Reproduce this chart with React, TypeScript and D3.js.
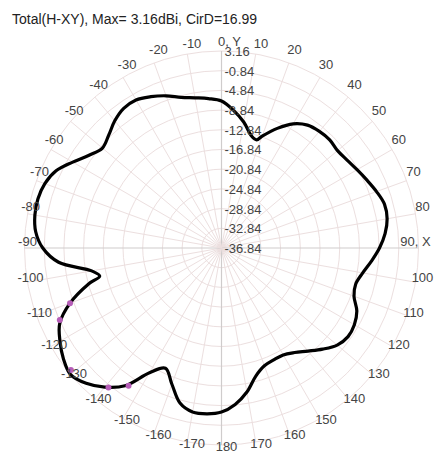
import React from 'react';
import * as d3 from 'd3';

// measured pattern, azimuth in degrees (0 = +Y, 90 = +X), gain in dBi
const azimuth = [
  -175, -170, -165, -160, -155, -150, -145, -140, -135, -130, -125, -120, -115, -110, -105, -103, -100,
  -95, -90, -85, -80, -75, -70, -65, -60, -55, -50, -45, -40, -35, -30, -25, -20, -15, -10, -5,
  0, 5, 10, 15, 18, 20, 25, 30, 35, 40, 45, 50, 55, 60, 65, 70, 75, 80, 85, 90,
  95, 100, 105, 110, 115, 120, 125, 130, 135, 140, 145, 150, 155, 160, 165, 170, 175, 180,
];
const gain = [
  -3.05, -3.03, -4.25, -7.4, -9.9, -7.6, -2.69, 0.05, 2.02, 3.16, 2.35, 1.03, -0.6, -4.11, -9.02, -11.46, -10.08,
  -3.64, -0.55, 1.03, 1.64, 1.74, 1.33, 0.22, -1.96, -4.01, -5.27, -4.45, -3.13, -2.22, -2.12, -2.93, -3.95, -5.16, -5.87, -6.38,
  -6.99, -8.78, -10.87, -13.29, -13.75, -12.68, -10.04, -7.72, -6.38, -5.92, -5.77, -6.08, -5.71, -5.06, -4.25, -3.34, -2.57, -2.69, -3.5, -4.76,
  -6.28, -7.72, -8.62, -8.21, -6.52, -5.69, -5.47, -6.18, -7.8, -9.51, -10.93, -11.78, -11.76, -11.38, -9.92, -7.15, -4.96, -3.54,
];

// highlighted samples
const markerAzimuth = [-110, -114, -129, -141, -146];
const markerGain = [-4.11, -0.9, 2.51, -0.37, -3.09];

const ringLevels = [3.16, -0.84, -4.84, -8.84, -12.84, -16.84, -20.84, -24.84, -28.84, -32.84, -36.84];
const ringLabels = ['3.16', '-0.84', '-4.84', '-8.84', '-12.84', '-16.84', '-20.84', '-24.84', '-28.84', '-32.84', '-36.84'];

const tickAngles = d3.range(-170, 181, 10);
const tickText = (a: number) => (a === 0 ? '0, Y' : a === 90 ? '90, X' : String(a));

const title = 'Total(H-XY), Max= 3.16dBi, CirD=16.99';

const W = 437;
const H = 453;
const cx = 221.5;
const cy = 248;
const R = 197;

const App: React.FC = () => {
  const rScale = d3.scaleLinear().domain([-36.84, 3.16]).range([0, R]);
  const rad = (deg: number) => (deg * Math.PI) / 180;

  const pts = azimuth.map((a, i) => ({ a, g: gain[i] }));
  const line = d3
    .lineRadial<{ a: number; g: number }>()
    .angle(d => rad(d.a))
    .radius(d => rScale(d.g))
    .curve(d3.curveCatmullRomClosed.alpha(0.5));

  const spokes = d3.range(0, 360, 10);
  const font = 'Arial, "Liberation Sans", sans-serif';

  return (
    <svg width={W} height={H} style={{ position: 'absolute', left: 0, top: 0, background: '#fff' }}>
      <text x={12} y={24} fontFamily={font} fontSize={14} fill="#222">{title}</text>
      <g transform={`translate(${cx},${cy})`}>
        {ringLevels.slice(0, -1).map(l => (
          <circle key={l} r={rScale(l)} fill="none" stroke="#ecdfdf" strokeWidth={1} />
        ))}
        {spokes.map(a => {
          const axis = a % 90 === 0;
          return (
            <line
              key={a}
              x1={0}
              y1={0}
              x2={R * Math.sin(rad(a))}
              y2={-R * Math.cos(rad(a))}
              stroke={axis ? '#cfcccc' : '#ecdfdf'}
              strokeWidth={axis ? 1.2 : 1}
            />
          );
        })}
        <path d={line(pts) ?? ''} fill="none" stroke="#000" strokeWidth={3.2} strokeLinejoin="round" />
        {markerAzimuth.map((a, i) => {
          const r = rScale(markerGain[i]);
          return (
            <circle
              key={a}
              cx={r * Math.sin(rad(a))}
              cy={-r * Math.cos(rad(a))}
              r={3}
              fill="#b65db8"
            />
          );
        })}
        {ringLevels.map((l, i) => (
          <text
            key={l}
            x={3}
            y={-rScale(l) + 1.5}
            dominantBaseline="middle"
            fontFamily={font}
            fontSize={13}
            fill="#444"
          >
            {ringLabels[i]}
          </text>
        ))}
        {tickAngles.map(a => {
          const x = 5 + 199 * Math.sin(rad(a)) + (a === 90 ? -10 : 0) + (a === 0 ? 3 : 0);
          const y = a === 0 ? 43 - cy : Math.max(-5 - 205 * Math.cos(rad(a)), 45 - cy);
          return (
            <text
              key={a}
              x={x}
              y={y}
              textAnchor="middle"
              dominantBaseline="middle"
              fontFamily={font}
              fontSize={13}
              fill="#444"
            >
              {tickText(a)}
            </text>
          );
        })}
      </g>
    </svg>
  );
};

export default App;
